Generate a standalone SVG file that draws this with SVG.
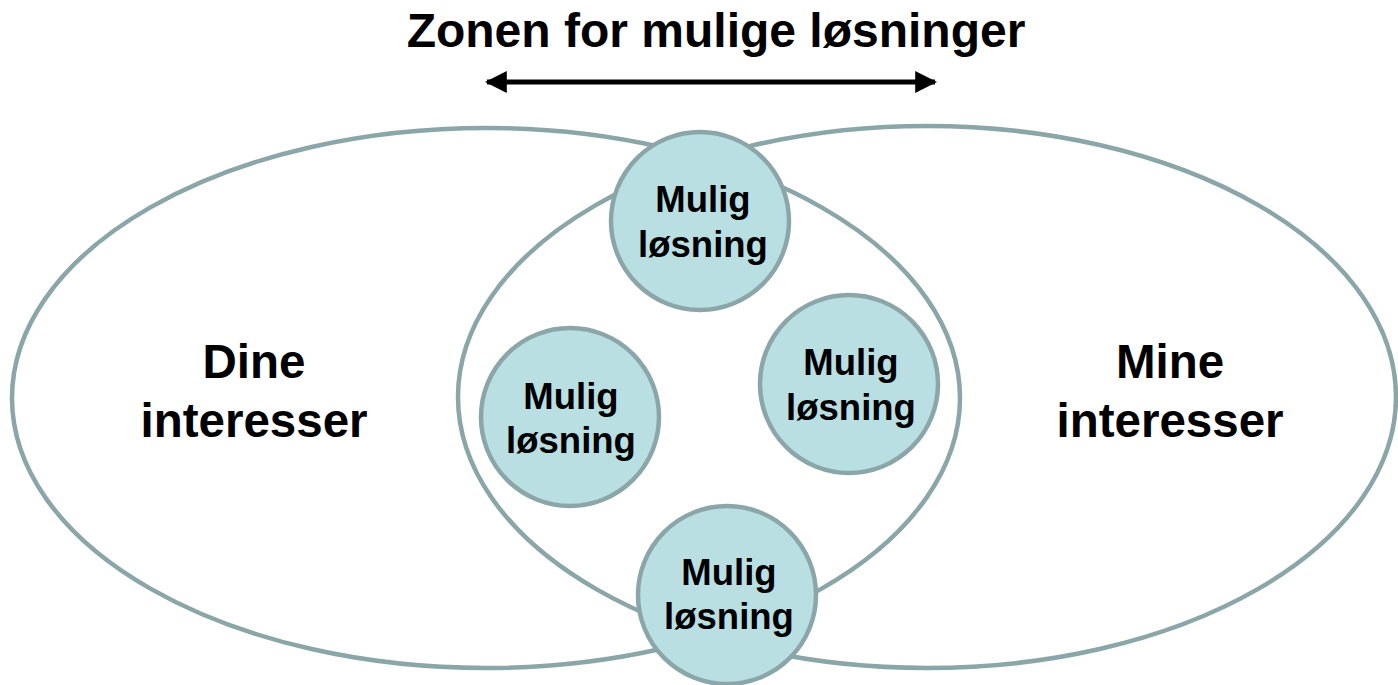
<svg xmlns="http://www.w3.org/2000/svg" width="1398" height="685" viewBox="0 0 1398 685">
  <style>
    .zone { fill: none; stroke: #8ba6a8; stroke-width: 4.5; }
    .sol { fill: #b9dfe2; stroke: #8ba6a8; stroke-width: 4.5; }
    .lbl { font-family: "Liberation Sans", Arial, sans-serif; font-weight: bold; fill: #000; text-anchor: middle; }
    .s36 { font-size: 36.5px; }
    .s46 { font-size: 47.5px; }
    .s48 { font-size: 48px; }
  </style>
  <defs>
    <marker id="head" viewBox="0 0 10 10" refX="9" refY="5" markerWidth="4.4" markerHeight="5" orient="auto-start-reverse" markerUnits="strokeWidth">
      <path d="M0,0 L10,5 L0,10 Z" fill="#000"/>
    </marker>
  </defs>
  <rect width="1398" height="685" fill="#fff"/>

  <g id="title">
    <text class="lbl s48" x="716" y="47">Zonen for mulige løsninger</text>
  </g>

  <g id="connectors">
    <line x1="487" y1="82" x2="935" y2="82" stroke="#000" stroke-width="5" marker-start="url(#head)" marker-end="url(#head)"/>
  </g>

  <g id="dine">
    <ellipse class="zone" cx="486" cy="398" rx="474" ry="270"/>
    <text class="lbl s46" x="254" y="378">Dine</text>
    <text class="lbl s46" x="254" y="437">interesser</text>
  </g>

  <g id="mine">
    <ellipse class="zone" cx="927" cy="397" rx="469" ry="271"/>
    <text class="lbl s46" x="1170" y="378">Mine</text>
    <text class="lbl s46" x="1170" y="437">interesser</text>
  </g>

  <g id="sol-top">
    <circle class="sol" cx="700" cy="221" r="89"/>
    <text class="lbl s36" x="703" y="212">Mulig</text>
    <text class="lbl s36" x="703" y="257">løsning</text>
  </g>

  <g id="sol-left">
    <circle class="sol" cx="570" cy="417" r="89"/>
    <text class="lbl s36" x="571" y="409">Mulig</text>
    <text class="lbl s36" x="571" y="453">løsning</text>
  </g>

  <g id="sol-right">
    <circle class="sol" cx="849" cy="384" r="89"/>
    <text class="lbl s36" x="851" y="375">Mulig</text>
    <text class="lbl s36" x="851" y="420">løsning</text>
  </g>

  <g id="sol-bottom">
    <circle class="sol" cx="727" cy="595" r="89"/>
    <text class="lbl s36" x="729" y="585">Mulig</text>
    <text class="lbl s36" x="729" y="629">løsning</text>
  </g>
</svg>
